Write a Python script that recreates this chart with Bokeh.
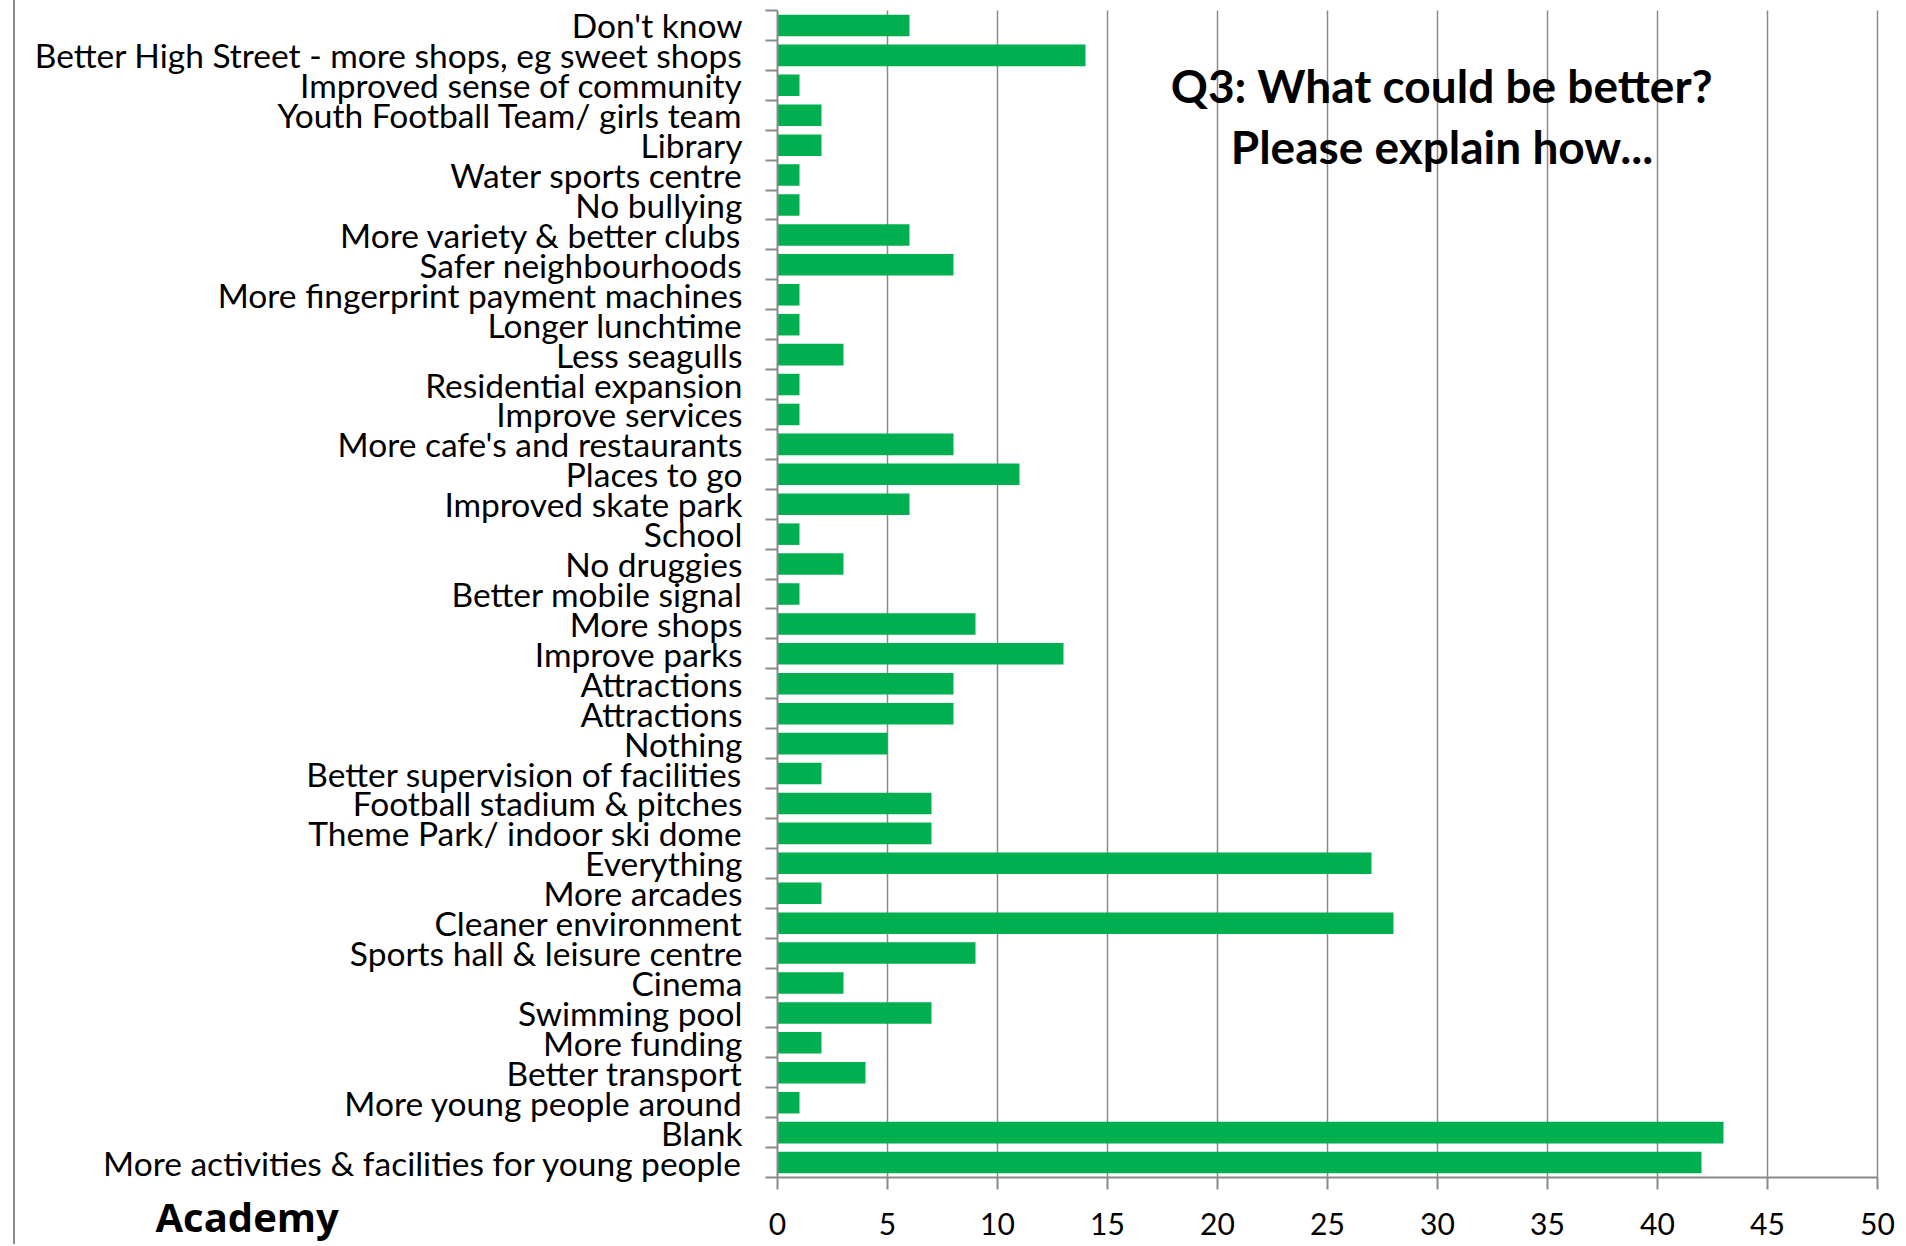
from bokeh.plotting import figure
from bokeh.models import Range1d, FixedTicker, Label, ColumnDataSource
from bokeh.embed import file_html
from bokeh.resources import INLINE

# ---- data (top to bottom as shown) ----
categories = [
    "Don't know",
    "Better High Street - more shops, eg sweet shops",
    "Improved sense of community",
    "Youth Football Team/ girls team",
    "Library",
    "Water sports centre",
    "No bullying",
    "More variety & better clubs",
    "Safer neighbourhoods",
    "More fingerprint payment machines",
    "Longer lunchtime",
    "Less seagulls",
    "Residential expansion",
    "Improve services",
    "More cafe's and restaurants",
    "Places to go",
    "Improved skate park",
    "School",
    "No druggies",
    "Better mobile signal",
    "More shops",
    "Improve parks",
    "Attractions",
    "Attractions",
    "Nothing",
    "Better supervision of facilities",
    "Football stadium & pitches",
    "Theme Park/ indoor ski dome",
    "Everything",
    "More arcades",
    "Cleaner environment",
    "Sports hall & leisure centre",
    "Cinema",
    "Swimming pool",
    "More funding",
    "Better transport",
    "More young people around",
    "Blank",
    "More activities & facilities for young people",
]
counts = [6, 14, 1, 2, 2, 1, 1, 6, 8, 1, 1, 3, 1, 1, 8, 11, 6, 1, 3, 1,
          9, 13, 8, 8, 5, 2, 7, 7, 27, 2, 28, 9, 3, 7, 2, 4, 1, 43, 42]
x_ticks = [0, 5, 10, 15, 20, 25, 30, 35, 40, 45, 50]
title_lines = ["Q3: What could be better?", "Please explain how..."]
corner_label = "Academy"

n = len(categories)
ypos = [n - i for i in range(n)]  # first category at top
source = ColumnDataSource(dict(y=ypos, right=counts, cat=categories))

GREEN = "#00B050"
GRAY = "#8a8a8a"
FONT = "Lato"

# layout geometry (pixels)
W, H = 1889, 1244
PX_PER_UNIT = 22.0          # 50 units across 1100 px
AXIS_X0 = 762               # canvas x of value 0
ROW = 29.923                # px per category row
TOP = 10                    # canvas y of top of category area
AXIS_Y = TOP + n * ROW      # canvas y of the value axis

x_start = -AXIS_X0 / PX_PER_UNIT
x_end = (W - AXIS_X0) / PX_PER_UNIT
y_end = n + 0.5 + TOP / ROW
y_start = 0.5 - (H - AXIS_Y) / ROW

p = figure(width=W, height=H, output_backend="svg", toolbar_location=None,
           x_range=Range1d(x_start, x_end), y_range=Range1d(y_start, y_end),
           min_border_left=0, min_border_right=0,
           min_border_top=0, min_border_bottom=0)
p.styles = {"margin-left": "13px", "border-left": "2px solid #8c8c8c"}
p.outline_line_color = None
p.background_fill_color = "white"
p.xgrid.visible = False
p.ygrid.visible = False

# vertical gridlines
p.segment(x0=x_ticks[1:], x1=x_ticks[1:], y0=0.5, y1=n + 0.5,
          line_color=GRAY, line_width=1.5)

p.hbar(y="y", left=0, right="right", height=0.72, source=source,
       fill_color=GREEN, line_color=None)

# x axis drawn at the bottom of the category area
xa = p.xaxis[0]
xa.fixed_location = 0.5
xa.bounds = (0, x_ticks[-1])
xa.ticker = FixedTicker(ticks=x_ticks)
xa.axis_line_color = GRAY
xa.axis_line_width = 2
xa.major_tick_line_color = GRAY
xa.major_tick_line_width = 2
xa.major_tick_out = 12
xa.major_tick_in = 0
xa.minor_tick_line_color = None
xa.major_label_text_font = FONT
xa.major_label_text_font_size = "30px"
xa.major_label_text_color = "black"
xa.major_label_standoff = 24

# y axis at value 0, labels at bar centres, tick marks between categories
ya = p.yaxis[0]
ya.fixed_location = 0
ya.bounds = (0.5, n + 0.5)
boundaries = [k + 0.5 for k in range(0, n + 1)]
ya.ticker = FixedTicker(ticks=ypos, minor_ticks=boundaries)
ya.major_label_overrides = {y: c for y, c in zip(ypos, categories)}
ya.axis_line_color = GRAY
ya.axis_line_width = 2
ya.major_tick_line_color = None
ya.major_tick_out = 0
ya.major_tick_in = 0
ya.minor_tick_line_color = GRAY
ya.minor_tick_line_width = 2
ya.minor_tick_out = 12
ya.minor_tick_in = 0
ya.major_label_text_font = FONT
ya.major_label_text_font_size = "33.5px"
ya.major_label_text_color = "black"
ya.major_label_standoff = 23

# title inside the plot
for i, line in enumerate(title_lines):
    p.add_layout(Label(x=30.2, y=n - 2.0 - i * 2.04, text=line, text_align="center",
                       text_baseline="middle", text_font=FONT,
                       text_font_style="bold", text_font_size="46px",
                       text_color="black"))

p.add_layout(Label(x=140, y=28, x_units="screen", y_units="screen", text=corner_label,
                   text_align="left", text_baseline="alphabetic", text_font="Open Sans",
                   text_font_style="bold", text_font_size="40px", text_color="black"))

open("out.html", "w").write(file_html(p, INLINE))
